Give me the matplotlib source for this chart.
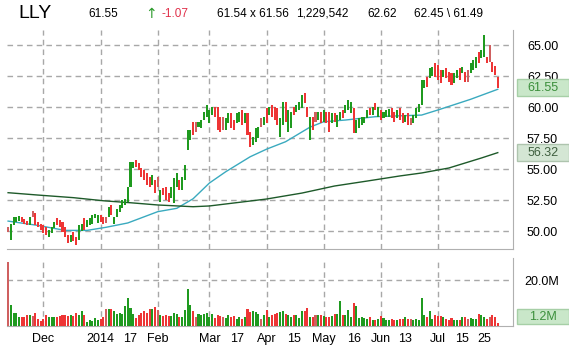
import matplotlib
matplotlib.use("Agg")
import matplotlib.pyplot as plt
import matplotlib.transforms as mtransforms
from matplotlib.patches import Rectangle
import numpy as np
import pandas as pd

plt.rcParams['font.family'] = ['Liberation Sans', 'DejaVu Sans']

# header quote
symbol = "LLY"
last_txt = "61.55"
change_txt = "-1.07"
bid_ask_txt = "61.54 x 61.56"
volume_txt = "1,229,542"
prev_close_txt = "62.62"
high_low_txt = "62.45 \\ 61.49"

holidays = ["2013-11-28", "2013-12-25", "2014-01-01", "2014-01-20",
            "2014-02-17", "2014-04-18", "2014-05-26", "2014-07-04"]
dates = pd.bdate_range("2013-11-12", "2014-08-01", freq="C", holidays=holidays)

opens = [
    50.35, 49.27, 50.48, 50.75, 50.8, 51.1, 51.0, 50.83, 50.48, 51.64,
    51.43, 50.75, 50.56, 50.48, 50.3, 49.49, 49.81, 50.22, 51.02, 50.89,
    50.75, 50.35, 49.68, 49.14, 49.94, 49.54, 49.27, 50.03, 51.02, 50.35,
    50.48, 50.56, 51.02, 50.62, 51.29, 51.15, 51.15, 51.15, 52.1, 50.56,
    51.15, 51.56, 51.83, 52.1, 52.36, 53.57,
    55.06, 55.73, 55.46, 55.06, 54.92, 54.65, 54.38, 53.71, 54.11, 54.38,
    52.36, 53.44, 53.57, 53.04, 52.64, 52.23, 53.57, 54.11, 53.31, 54.11,
    56.53, 57.34, 58.81, 58.81, 58.4, 58.28, 58.95, 59.22, 58.69, 59.35,
    60.02, 60.02, 59.22, 59.22, 58.15, 58.69, 59.49, 58.95, 58.69, 58.81,
    59.76, 58.69, 59.5,
    58.0, 56.94, 57.2, 57.48, 59.09, 58.55, 59.9, 59.35, 60.16, 60.02,
    59.9, 57.6, 58.55, 60.43, 58.0, 58.28, 60.02, 59.62, 59.76, 59.9,
    61.1, 60.02, 57.34, 59.22, 59.62, 58.95, 59.62, 58.81, 59.62, 59.62,
    58.69, 59.49, 58.41, 58.95, 59.76, 59.49, 59.76, 59.49, 59.9, 57.88,
    58.28, 58.55, 58.69, 59.09, 59.9, 59.35, 60.3,
    59.22, 59.76, 59.09, 59.17, 59.22, 59.9, 59.62, 59.09, 59.9, 59.49,
    58.81, 59.49, 59.09, 58.69, 59.09, 59.62, 60.16, 61.5, 62.45, 62.31,
    62.5, 63.52, 63.39, 62.98, 62.45, 63.12, 62.85, 62.72, 61.91, 62.31,
    63.12, 62.72, 62.85, 62.98, 62.72, 62.98, 63.12, 64.46, 63.93, 64.06,
    64.06, 65.0, 63.65, 63.3, 62.4,
]
closes = [
    49.95, 50.56, 51.15, 51.15, 51.2, 50.75, 50.6, 50.48, 51.15, 51.15,
    50.48, 50.3, 50.08, 49.81, 49.68, 50.08, 50.3, 50.75, 50.48, 50.35,
    49.94, 49.49, 49.06, 49.68, 49.22, 48.87, 50.48, 50.56, 50.08, 50.89,
    51.02, 51.29, 51.37, 51.29, 50.75, 50.56, 50.67, 51.91, 51.29, 51.15,
    51.75, 52.1, 52.5, 52.56, 53.57, 55.59,
    55.59, 55.19, 54.92, 54.38, 54.11, 53.71, 53.57, 54.52, 53.04, 53.57,
    53.31, 52.9, 52.5, 52.36, 53.57, 54.25, 54.65, 53.31, 54.38, 55.32,
    58.15, 58.15, 57.74, 58.0, 58.81, 58.95, 59.62, 60.16, 59.76, 60.02,
    59.22, 58.15, 58.0, 58.15, 59.09, 59.49, 58.28, 58.15, 59.49, 59.62,
    58.55, 59.49, 57.74,
    56.8, 57.6, 58.28, 58.41, 58.41, 59.22, 58.69, 60.02, 59.22, 58.95,
    58.55, 59.09, 60.43, 58.81, 59.76, 59.62, 59.35, 60.16, 60.43, 60.97,
    60.3, 59.22, 59.22, 58.15, 58.81, 59.62, 58.69, 59.76, 58.69, 58.0,
    59.49, 58.81, 59.35, 59.62, 59.09, 60.16, 60.56, 60.43, 57.88, 58.95,
    59.09, 59.22, 59.22, 59.76, 59.35, 60.02, 59.76,
    60.02, 58.95, 59.62, 59.76, 59.81, 59.09, 58.81, 59.76, 58.95, 58.69,
    59.35, 58.55, 58.55, 59.35, 59.9, 60.24, 62.18, 62.18, 61.64, 63.12,
    63.2, 62.45, 62.18, 61.91, 62.98, 62.31, 62.04, 61.77, 62.72, 62.98,
    62.18, 63.25, 62.04, 62.04, 63.52, 63.79, 64.06, 63.52, 64.6, 65.81,
    63.52, 63.65, 62.85, 62.62, 61.55,
]
# volume in millions of shares
volumes = [
    27.8, 9.0, 5.7, 5.7, 3.9, 3.9, 3.9, 4.6, 4.9, 4.2,
    5.8, 3.2, 2.0, 3.2, 4.9, 3.9, 3.9, 3.9, 3.9, 4.2,
    4.6, 4.9, 4.2, 4.6, 4.2, 5.8, 4.9, 6.4, 4.6, 1.7,
    2.5, 2.0, 3.5, 2.8, 3.2, 3.9, 7.5, 7.2, 7.2, 6.4,
    5.4, 5.8, 5.4, 8.7, 12.2, 7.8, 5.4, 3.5, 4.9, 5.8,
    6.4, 5.8, 7.2, 7.2, 8.3, 6.8, 4.9, 4.3, 4.6, 4.3,
    4.3, 5.8, 5.4, 3.9, 3.9, 6.8, 16.2, 9.0, 6.4, 3.9,
    5.4, 4.9, 5.4, 5.8, 3.9, 5.4, 3.5, 4.9, 4.2, 3.9,
    3.5, 4.6, 3.9, 4.2, 3.2, 3.9, 3.2, 3.9, 7.2, 6.1,
    6.4, 6.1, 5.4, 3.2, 4.6, 6.8, 3.9, 4.9, 5.4, 5.8,
    6.1, 6.4, 5.4, 4.6, 3.9, 4.6, 4.9, 3.5, 6.4, 6.4,
    7.8, 3.9, 3.9, 4.9, 4.9, 4.9, 4.2, 3.9, 3.9, 4.2,
    5.4, 5.4, 10.9, 4.9, 4.9, 6.8, 3.9, 10.0, 8.7, 3.5,
    3.9, 3.5, 2.9, 3.9, 2.5, 2.5, 3.2, 4.3, 3.5, 2.5,
    2.5, 2.9, 2.5, 2.5, 3.2, 2.9, 3.9, 3.2, 3.2, 2.5,
    2.9, 2.5, 12.2, 4.9, 3.9, 6.4, 3.2, 4.6, 4.3, 4.3,
    3.9, 2.9, 2.5, 3.5, 2.5, 2.5, 2.5, 3.9, 3.9, 3.2,
    3.5, 3.2, 3.2, 5.4, 4.9, 3.9, 2.9, 3.9, 4.9, 3.9,
    1.23,
]

ma50_dates = ["2013-11-12", "2013-11-27", "2013-12-12", "2013-12-24", "2014-01-06",
              "2014-01-16", "2014-02-03", "2014-02-12", "2014-02-21", "2014-03-03",
              "2014-03-11", "2014-03-24", "2014-04-01", "2014-04-10", "2014-04-24",
              "2014-05-01", "2014-05-13", "2014-05-29", "2014-06-23", "2014-07-01",
              "2014-07-18", "2014-08-01"]
ma50_vals = [50.8, 50.45, 50.05, 50.05, 50.3, 50.65, 51.56, 51.83, 52.6, 53.87,
             54.78, 55.99, 56.6, 57.2, 58.38, 58.81, 58.95, 59.22, 59.35, 59.76,
             60.62, 61.43]
ma200_dates = ["2013-11-12", "2013-11-27", "2013-12-17", "2014-01-03", "2014-01-17",
               "2014-02-03", "2014-02-21", "2014-03-03", "2014-03-24", "2014-04-01",
               "2014-04-21", "2014-05-07", "2014-05-23", "2014-06-11", "2014-06-23",
               "2014-07-08", "2014-07-24", "2014-08-01"]
ma200_vals = [53.09, 52.9, 52.69, 52.44, 52.28, 52.1, 51.96, 52.02, 52.42, 52.58,
              53.06, 53.63, 54.03, 54.44, 54.68, 55.08, 55.89, 56.32]

price_ticks = [50.0, 52.5, 55.0, 57.5, 60.0, 62.5, 65.0]
day_ticks = ["2014-01-17", "2014-03-17", "2014-04-15", "2014-05-16",
             "2014-06-13", "2014-07-15", "2014-07-25"]

x = np.arange(len(dates))
o = np.array(opens)
c = np.array(closes)
prev = np.concatenate([[c[0]], c[:-1]])
colors = np.where(c >= o, "#1f9a1f", np.where(c < prev, "#ee3535", "#cf6060"))

W, H = 569, 352
fig = plt.figure(figsize=(W / 100, H / 100), dpi=100)
ax = fig.add_axes([7 / W, 103 / H, 506 / W, 219 / H])
axv = fig.add_axes([7 / W, 26 / H, 506 / W, 68 / H])

grid_kw = dict(color="#a8a8a8", linestyle=(0, (4, 3)), linewidth=1, zorder=0)

# month starts
month_pos = []
month_lab = []
for i in range(1, len(dates)):
    if dates[i].month != dates[i - 1].month and dates[i].month != 8:
        month_pos.append(i)
        month_lab.append("2014" if dates[i].month == 1 else dates[i].strftime("%b"))
day_pos = [dates.get_loc(pd.Timestamp(d)) for d in day_ticks]
day_lab = [pd.Timestamp(d).strftime("%d").lstrip("0") for d in day_ticks]

# price panel
body = np.maximum(np.abs(c - o), 0.12)
ax.bar(x, body, bottom=np.minimum(o, c), width=0.75, color=colors, zorder=3)
ax.plot(dates.get_indexer(pd.to_datetime(ma50_dates)), ma50_vals, color="#3aaabf", lw=1, zorder=2)
ax.plot(dates.get_indexer(pd.to_datetime(ma200_dates)), ma200_vals, color="#1e5a2a", lw=1, zorder=2)
for p in price_ticks:
    ax.axhline(p, **grid_kw)
for m in month_pos:
    ax.axvline(m, **grid_kw)
ax.set_xlim(-0.4, 185.6)
ax.set_ylim(48.55, 66.21)
ax.yaxis.tick_right()
ax.set_yticks(price_ticks)
ax.set_yticklabels([f"{p:.2f}" for p in price_ticks])
ax.tick_params(axis="y", length=0, pad=10, labelsize=9)
ax.set_xticks([])

# volume panel
axv.bar(x, volumes, width=0.75, color=colors, zorder=3)
axv.axhline(20, **grid_kw)
for m in month_pos:
    axv.axvline(m, **grid_kw)
axv.set_xlim(-0.4, 185.6)
axv.set_ylim(0, 29.57)
axv.yaxis.tick_right()
axv.set_yticks([20])
axv.set_yticklabels(["20.0M"])
axv.tick_params(axis="y", length=0, pad=8, labelsize=9)
axv.set_xticks(month_pos + day_pos)
axv.set_xticklabels(month_lab + day_lab)
for lab in axv.get_xticklabels()[len(month_pos):]:
    lab.set_fontsize(7.5)
axv.tick_params(axis="x", length=0, pad=5, labelsize=9)
for lab in axv.get_xticklabels():
    lab.set_verticalalignment("top")

for a in (ax, axv):
    a.spines["top"].set_visible(False)
    a.spines["left"].set_visible(False)
    a.spines["right"].set_color("#b0b0b0")
    a.spines["bottom"].set_color("#b0b0b0")

# value boxes on the right
tp = mtransforms.blended_transform_factory(fig.transFigure, ax.transData)
hb = 17 / 12.4
ax.add_patch(Rectangle((517 / W, c[-1] - hb / 2), 52 / W, hb, transform=tp, clip_on=False,
                       facecolor="#c9e7c9", edgecolor="#a6cfa6", lw=1, zorder=5))
ax.text(543 / W, c[-1], f"{c[-1]:.2f}", transform=tp, ha="center", va="center",
        fontsize=9, color="#3b8f3b", zorder=6)
ax.add_patch(Rectangle((517 / W, ma200_vals[-1] - hb / 2), 52 / W, hb, transform=tp, clip_on=False,
                       facecolor="#d4e6d4", edgecolor="#aec4ae", lw=1, zorder=5))
ax.text(543 / W, ma200_vals[-1], f"{ma200_vals[-1]:.2f}", transform=tp, ha="center", va="center",
        fontsize=9, color="#3f5f3f", zorder=6)
tv = mtransforms.blended_transform_factory(fig.transFigure, axv.transAxes)
axv.add_patch(Rectangle((517 / W, 2 / 68), 52 / W, 15 / 68, transform=tv, clip_on=False,
                        facecolor="#c9e7c9", edgecolor="#a6cfa6", lw=1, zorder=5))
axv.text(543 / W, 9.5 / 68, f"{volumes[-1]:.1f}M", transform=tv, ha="center", va="center",
         fontsize=9, color="#3b8f3b", zorder=6)

# header
ty = 1 - 14 / H
fig.text(18 / W, ty, symbol, fontsize=14, va="center")
fig.text(88 / W, ty, last_txt, fontsize=8.5, va="center")
fig.text(145 / W, ty, "\u2191", fontsize=10, va="center", color="#2a9a2a", family="DejaVu Sans")
fig.text(162 / W, ty, change_txt, fontsize=8.5, va="center", color="#e0304a")
fig.text(217 / W, ty, bid_ask_txt, fontsize=8.5, va="center")
fig.text(296 / W, ty, volume_txt, fontsize=8.5, va="center")
fig.text(367 / W, ty, prev_close_txt, fontsize=8.5, va="center")
fig.text(414 / W, ty, high_low_txt, fontsize=8.5, va="center")

fig.savefig("out.png", dpi=100, facecolor="white")
